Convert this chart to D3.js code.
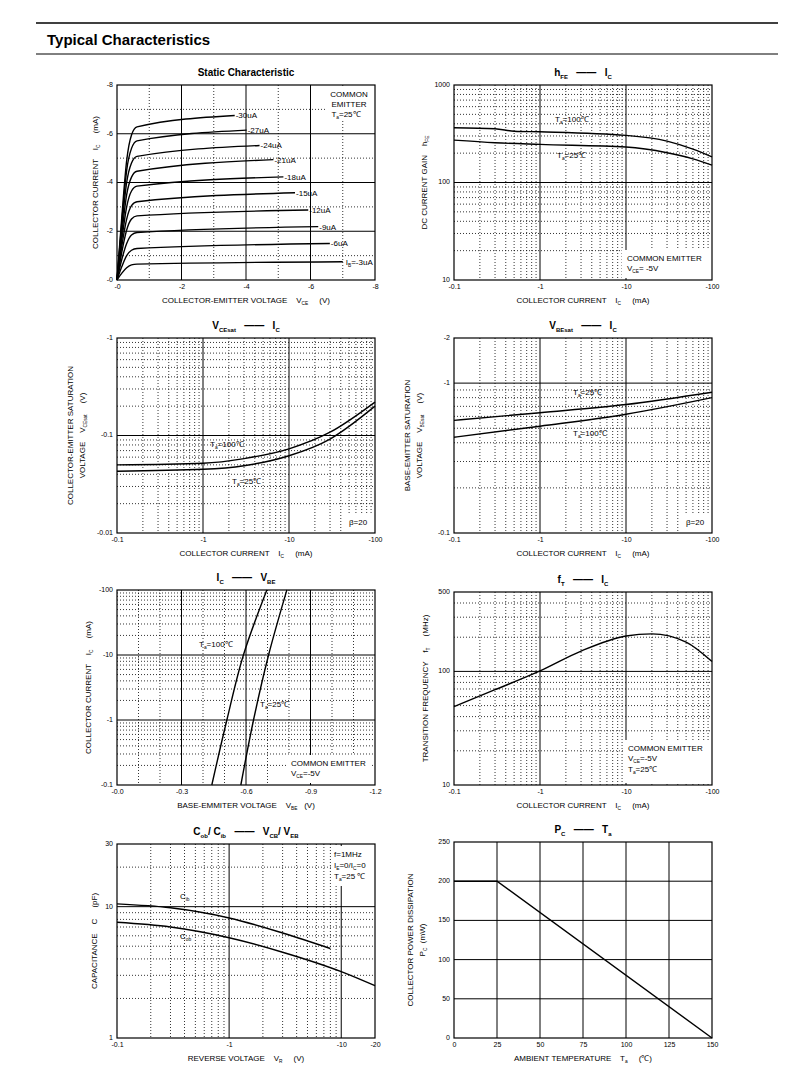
<!DOCTYPE html>
<html><head><meta charset="utf-8">
<script src="https://cdn.jsdelivr.net/npm/d3@7"></script>
<style>body{margin:0;background:#fff}svg{font-family:"Liberation Sans",Arial,sans-serif}text{white-space:pre}</style>
</head><body><svg id="page" width="790" height="1065"></svg>
<script>
// ---- data ----
// static characteristic: [Vce, Ic] per base current (values shown as magnitudes)
const ibLabels = ["-30uA","-27uA","-24uA","-21uA","-18uA","-15uA","-12uA","-9uA","-6uA","-3uA"];
const ibCurves = [
  [[0,0],[0.15,2.6],[0.3,4.9],[0.45,5.95],[0.62,6.28],[3.65,6.75]],
  [[0,0],[0.15,2.4],[0.3,4.5],[0.45,5.4],[0.62,5.71],[4.02,6.15]],
  [[0,0],[0.15,2.2],[0.3,4.0],[0.45,4.8],[0.62,5.07],[4.42,5.52]],
  [[0,0],[0.15,1.9],[0.3,3.5],[0.45,4.22],[0.62,4.46],[4.85,4.94]],
  [[0,0],[0.15,1.65],[0.3,3.0],[0.45,3.65],[0.62,3.85],[5.16,4.23]],
  [[0,0],[0.15,1.4],[0.3,2.5],[0.45,3.05],[0.62,3.21],[5.52,3.58]],
  [[0,0],[0.15,1.15],[0.3,2.05],[0.45,2.5],[0.62,2.63],[5.93,2.87]],
  [[0,0],[0.15,0.85],[0.3,1.5],[0.45,1.85],[0.62,1.95],[6.24,2.19]],
  [[0,0],[0.15,0.55],[0.3,1.0],[0.45,1.22],[0.62,1.29],[6.6,1.5]],
  [[0,0],[0.15,0.28],[0.3,0.5],[0.45,0.62],[0.62,0.65],[7.0,0.75]]
];
const hfe100 = [[0.1,364],[0.3,356],[0.5,336],[1,331],[10,304],[30,266],[60,220],[100,183]];
const hfe25  = [[0.1,272],[0.3,256],[1,246],[10,231],[30,202],[60,175],[100,151]];
const vce100 = [[0.1,0.05],[1,0.052],[3,0.058],[10,0.073],[30,0.108],[100,0.22]];
const vce25  = [[0.1,0.043],[1,0.045],[3,0.049],[10,0.062],[30,0.092],[100,0.2]];
const vbe25  = [[0.1,0.564],[1,0.635],[10,0.72],[100,0.87]];
const vbe100 = [[0.1,0.435],[1,0.516],[10,0.62],[100,0.80]];
const icv100 = [[0.441,0.1],[0.511,1],[0.588,10],[0.697,100]];
const icv25  = [[0.576,0.1],[0.635,1],[0.705,10],[0.79,100]];
const ftCurve = [[0.1,49],[0.3,69],[1,101],[3,151],[10,205],[20,214],[50,181],[100,122]];
const cib = [[0.1,10.5],[0.3,9.8],[1,8.2],[3,6.3],[8,4.8]];
const cob = [[0.1,7.6],[0.3,7.0],[1,5.8],[3,4.5],[10,3.2],[20,2.5]];
const pcCurve = [[0,200],[25,200],[150,0]];

const logTicksI = [0.1,1,10,100], logLabelsI = ["-0.1","-1","-10","-100"];

const svg = d3.select("#page");

// header
svg.append("line").attr("x1",36).attr("x2",778).attr("y1",23).attr("y2",23).attr("stroke","#000").attr("stroke-width",1.5);
svg.append("line").attr("x1",36).attr("x2",778).attr("y1",54).attr("y2",54).attr("stroke","#000").attr("stroke-width",1);
svg.append("text").attr("x",47).attr("y",45).attr("font-size",15).attr("font-weight","bold").text("Typical Characteristics");

// rich text: segments [text, "sub"?]
function rich(g, x, y, segs, size, opts) {
  opts = opts || {};
  const t = g.append("text").attr("x",x).attr("y",y).attr("font-size",size)
    .attr("text-anchor",opts.anchor||"middle").attr("font-weight",opts.bold?"bold":null);
  if (opts.rotate) t.attr("transform",`rotate(-90,${x},${y})`);
  let low = false;
  segs.forEach(s => {
    const sp = t.append("tspan").text(s[0]).attr("font-size", s[1] ? size*0.6 : size);
    if (s[1] && !low) { sp.attr("dy", size*0.3); low = true; }
    else if (!s[1] && low) { sp.attr("dy", -size*0.3); low = false; }
  });
  return t;
}

function gridVals(dom, type, step, major) {
  const out = [];
  if (type === "log") {
    const lo = Math.min(...dom), hi = Math.max(...dom);
    for (let e = Math.floor(Math.log10(lo)); e <= Math.ceil(Math.log10(hi)); e++)
      for (let m = 1; m <= 9; m++) {
        const v = m * Math.pow(10, e);
        if (v > lo * 1.0001 && v < hi * 0.9999) out.push([v, m === 1]);
      }
  } else {
    const n = Math.round((dom[1] - dom[0]) / step);
    for (let i = 1; i < n; i++) out.push([dom[0] + i * step, i % major === 0]);
  }
  return out;
}

function panel(c) {
  const g = svg.append("g");
  const x = (c.xt === "log" ? d3.scaleLog() : d3.scaleLinear()).domain(c.xd).range([c.l, c.l + c.w]);
  const y = (c.yt === "log" ? d3.scaleLog() : d3.scaleLinear()).domain(c.yd).range([c.t + c.h, c.t]);
  gridVals(c.xd, c.xt, c.xs, c.xm).forEach(([v, maj]) => {
    g.append("line").attr("x1",x(v)).attr("x2",x(v)).attr("y1",c.t).attr("y2",c.t+c.h)
      .attr("stroke","#000").attr("stroke-width",maj?1:0.8).attr("stroke-dasharray",maj?null:"1,2");
  });
  gridVals(c.yd, c.yt, c.ys, c.ym).forEach(([v, maj]) => {
    g.append("line").attr("y1",y(v)).attr("y2",y(v)).attr("x1",c.l).attr("x2",c.l+c.w)
      .attr("stroke","#000").attr("stroke-width",maj?1:0.8).attr("stroke-dasharray",maj?null:"1,2");
  });
  // annotation backgrounds
  (c.boxes||[]).forEach(b => g.append("rect").attr("x",b[0]).attr("y",b[1]).attr("width",b[2]).attr("height",b[3]).attr("fill","#fff"));
  g.append("rect").attr("x",c.l).attr("y",c.t).attr("width",c.w).attr("height",c.h).attr("fill","none").attr("stroke","#000").attr("stroke-width",1.2);
  // tick labels via axes
  const xa = d3.axisBottom(x).tickValues(c.xtv).tickFormat((d,i)=>c.xtl[i]).tickSize(0).tickPadding(4);
  const ya = d3.axisLeft(y).tickValues(c.ytv).tickFormat((d,i)=>c.ytl[i]).tickSize(0).tickPadding(4);
  g.append("g").attr("transform",`translate(0,${c.t+c.h})`).call(xa).call(s=>s.select(".domain").remove()).selectAll("text").attr("font-size",7).attr("font-family","Liberation Sans, Arial");
  g.append("g").attr("transform",`translate(${c.l},0)`).call(ya).call(s=>s.select(".domain").remove()).selectAll("text").attr("font-size",7).attr("font-family","Liberation Sans, Arial").attr("dy","0.2em");
  // curves
  const line = d3.line().x(d=>x(d[0])).y(d=>y(d[1])).curve(d3.curveMonotoneX);
  const lineY = d3.line().x(d=>x(d[0])).y(d=>y(d[1])).curve(d3.curveMonotoneY);
  const lineL = d3.line().x(d=>x(d[0])).y(d=>y(d[1]));
  c.series.forEach(s => g.append("path").datum(s.d).attr("d", s.monoY ? lineY : (s.linear ? lineL : line))
    .attr("fill","none").attr("stroke","#000").attr("stroke-width",1.4));
  // titles
  rich(g, c.l + c.w/2, c.t - 9, c.title, 10, {bold:true});
  rich(g, c.l + c.w/2, c.t + c.h + 23, c.xlab, 8);
  c.ylab.forEach(yl => rich(g, yl[0], c.t + c.h/2, yl[1], 8, {rotate:true}));
  (c.notes||[]).forEach(n => rich(g, n[0], n[1], n[2], 8, {anchor:n[3]||"start"}));
  return {g, x, y};
}
const T = (v) => [["T"],["a","sub"],["="+v+"\u2103"]];
const dash = ["   \u2014\u2014   "];

// 1 static characteristic
const p1 = panel({l:117,t:85,w:258,h:195, xt:"lin", xd:[0,8], xs:1, xm:2, yt:"lin", yd:[0,8], ys:1, ym:2,
  xtv:[0,2,4,6,8], xtl:["-0","-2","-4","-6","-8"], ytv:[0,2,4,6,8], ytl:["-0","-2","-4","-6","-8"],
  boxes:[[325,87,48,34]],
  series: ibCurves.map(d=>({d})),
  title:[["Static Characteristic"]], xlab:[["COLLECTOR-EMITTER VOLTAGE    V"],["CE","sub"],["     (V)"]],
  ylab:[[98,[["COLLECTOR CURRENT    I"],["C","sub"],["     (mA)"]]]],
  notes:[[349,97,[["COMMON"]],"middle"],[349,107,[["EMITTER"]],"middle"],[346,117,T(25),"middle"]]});
ibCurves.forEach((d,i) => {
  const e = d[d.length-1];
  rich(p1.g, p1.x(e[0]) + 1 + (i===9?2:0), p1.y(e[1]) + 3, i===9?[["I"],["B","sub"],["=-3uA"]]:[[ibLabels[i]]], 8, {anchor:"start"});
});

// 2 hFE
panel({l:454,t:85,w:258,h:195, xt:"log", xd:[0.1,100], yt:"log", yd:[10,1000],
  xtv:logTicksI, xtl:logLabelsI, ytv:[10,100,1000], ytl:["10","100","1000"],
  boxes:[[622,250,88,28]],
  series:[{d:hfe100},{d:hfe25}], title:[["h"],["FE","sub"],dash,["I"],["C","sub"]],
  xlab:[["COLLECTOR CURRENT    I"],["C","sub"],["     (mA)"]],
  ylab:[[427,[["DC CURRENT GAIN    h"],["FE","sub"]]]],
  notes:[[555,122,T(100)],[557,158,T(25)],[627,261,[["COMMON EMITTER"]]],[627,271,[["V"],["CE","sub"],["= -5V"]]]]});

// 3 VCEsat
panel({l:117,t:338,w:258,h:195, xt:"log", xd:[0.1,100], yt:"log", yd:[0.01,1],
  xtv:logTicksI, xtl:logLabelsI, ytv:[0.01,0.1,1], ytl:["-0.01","-0.1","-1"],
  boxes:[[345,514,28,17]],
  series:[{d:vce100},{d:vce25}], title:[["V"],["CEsat","sub"],dash,["I"],["C","sub"]],
  xlab:[["COLLECTOR CURRENT    I"],["C","sub"],["     (mA)"]],
  ylab:[[73,[["COLLECTOR-EMITTER SATURATION"]]],[85,[["VOLTAGE    V"],["CEsat","sub"],["     (V)"]]]],
  notes:[[210,447,T(100)],[232,484,T(25)],[349,525,[["\u03b2=20"]]]]});

// 4 VBEsat
panel({l:454,t:338,w:258,h:195, xt:"log", xd:[0.1,100], yt:"log", yd:[0.1,2],
  xtv:logTicksI, xtl:logLabelsI, ytv:[0.1,1,2], ytl:["-0.1","-1","-2"],
  boxes:[[683,514,27,17]],
  series:[{d:vbe25},{d:vbe100}], title:[["V"],["BEsat","sub"],dash,["I"],["C","sub"]],
  xlab:[["COLLECTOR CURRENT    I"],["C","sub"],["     (mA)"]],
  ylab:[[410,[["BASE-EMITTER SATURATION"]]],[422,[["VOLTAGE    V"],["BEsat","sub"],["     (V)"]]]],
  notes:[[573,395,T(25)],[573,436,T(100)],[686,525,[["\u03b2=20"]]]]});

// 5 Ic - VBE
panel({l:117,t:590,w:258,h:195, xt:"lin", xd:[0,1.2], xs:0.1, xm:3, yt:"log", yd:[0.1,100],
  xtv:[0,0.3,0.6,0.9,1.2], xtl:["-0.0","-0.3","-0.6","-0.9","-1.2"], ytv:[0.1,1,10,100], ytl:["-0.1","-1","-10","-100"],
  boxes:[[288,755,82,28]],
  series:[{d:icv100, monoY:true},{d:icv25, monoY:true}], title:[["I"],["C","sub"],dash,["V"],["BE","sub"]],
  xlab:[["BASE-EMMITER VOLTAGE    V"],["BE","sub"],["   (V)"]],
  ylab:[[91,[["COLLECTOR CURRENT    I"],["C","sub"],["     (mA)"]]]],
  notes:[[199,647,T(100)],[260,707,T(25)],[291,766,[["COMMON EMITTER"]]],[291,776,[["V"],["CE","sub"],["=-5V"]]]]});

// 6 fT
panel({l:454,t:592,w:258,h:193, xt:"log", xd:[0.1,100], yt:"log", yd:[10,500],
  xtv:logTicksI, xtl:logLabelsI, ytv:[10,100,500], ytl:["10","100","500"],
  boxes:[[624,740,86,43]],
  series:[{d:ftCurve}], title:[["f"],["T","sub"],dash,["I"],["C","sub"]],
  xlab:[["COLLECTOR CURRENT    I"],["C","sub"],["     (mA)"]],
  ylab:[[428,[["TRANSITION FREQUENCY    f"],["T","sub"],["     (MHz)"]]]],
  notes:[[628,751,[["COMMON EMITTER"]]],[628,761,[["V"],["CE","sub"],["=-5V"]]],[628,772,T(25)]]});

// 7 capacitance
panel({l:117,t:844,w:258,h:194, xt:"log", xd:[0.1,20], yt:"log", yd:[1,30],
  xtv:[0.1,1,10,20], xtl:["-0.1","-1","-10","-20"], ytv:[1,10,30], ytl:["1","10","30"],
  boxes:[[331,846,42,40]],
  series:[{d:cib},{d:cob}], title:[["C"],["ob","sub"],["/ C"],["ib","sub"],dash,["V"],["CB","sub"],["/ V"],["EB","sub"]],
  xlab:[["REVERSE VOLTAGE    V"],["R","sub"],["     (V)"]],
  ylab:[[97,[["CAPACITANCE    C     (pF)"]]]],
  notes:[[334,857,[["f=1MHz"]]],[334,868,[["I"],["E","sub"],["=0/I"],["C","sub"],["=0"]]],[334,879,[["T"],["a","sub"],["=25 \u2103"]]],
    [180,899,[["C"],["ib","sub"]]],[180,939,[["C"],["ob","sub"]]]]});

// 8 Pc - Ta
panel({l:454,t:842,w:258,h:196, xt:"lin", xd:[0,150], xs:25, xm:1, yt:"lin", yd:[0,250], ys:50, ym:1,
  xtv:[0,25,50,75,100,125,150], xtl:["0","25","50","75","100","125","150"], ytv:[0,50,100,150,200,250], ytl:["0","50","100","150","200","250"],
  series:[{d:pcCurve, linear:true}], title:[["P"],["C","sub"],dash,["T"],["a","sub"]],
  xlab:[["AMBIENT TEMPERATURE    T"],["a","sub"],["     (\u2103)"]],
  ylab:[[413,[["COLLECTOR POWER DISSIPATION"]]],[425,[["P"],["C","sub"],["  (mW)"]]]]});
</script></body></html>
